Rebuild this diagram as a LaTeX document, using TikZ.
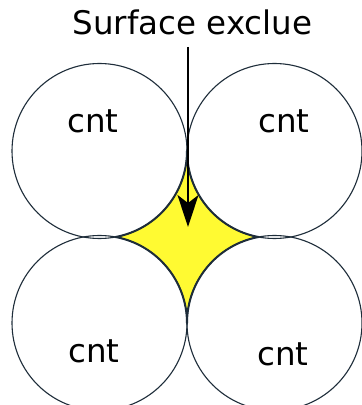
\documentclass[tikz,border=0pt]{standalone}
\usepackage{fontspec}
\setmainfont{DejaVu Sans}
\usetikzlibrary{arrows.meta}
\definecolor{edge}{RGB}{30,45,58}
\definecolor{zone}{RGB}{255,250,50}
\tikzset{
  tube/.style={circle, draw=edge, line width=1.1pt, minimum size=175pt, inner sep=0pt},
  lab/.style={font=\fontsize{32.5}{39}\selectfont, anchor=base, inner sep=0pt},
  pointer/.style={line width=1.4pt, -{Stealth[length=32pt,width=21pt,inset=8pt]}},
}
\begin{document}
\begin{tikzpicture}[x=1pt,y=1pt]
\useasboundingbox[fill=white] (0,0) rectangle (362,405);
% excluded area
\fill[zone, draw=edge, line width=2pt, line join=round]
  (187,254) arc[start angle=0, end angle=-79.4, radius=87.5]
  arc[start angle=79.4, end angle=0, radius=87.5]
  arc[start angle=180, end angle=100.6, radius=87.5]
  arc[start angle=259.4, end angle=180, radius=87.5] -- cycle;
% tubes
\node[tube] (tl) at (99.5,254) {};
\node[tube] (tr) at (274.5,254) {};
\node[tube] (bl) at (99.5,82) {};
\node[tube] (br) at (274.5,82) {};
\node[lab] (ltl) at (93,272) {cnt};
\node[lab] (ltr) at (284,272) {cnt};
\node[lab] (lbl) at (94,42) {cnt};
\node[lab] (lbr) at (283,39) {cnt};
% title and arrow
\node[lab] (title) at (192.5,370) {Surface exclue};
\coordinate (start) at (188,358);
\coordinate (tip) at (188,178);
\draw[pointer] (start) -- (tip);
\end{tikzpicture}
\end{document}
